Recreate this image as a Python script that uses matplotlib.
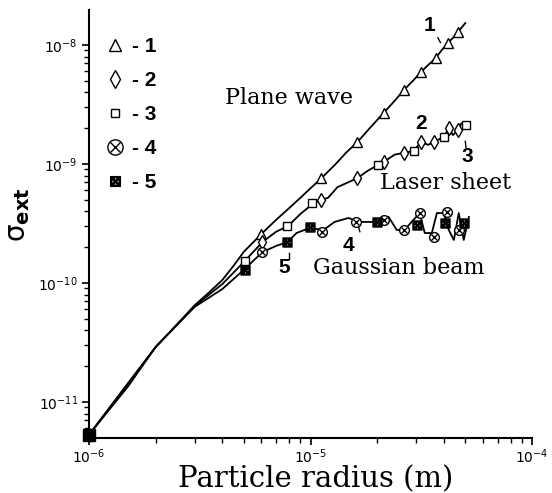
import numpy as np
import matplotlib
matplotlib.use("Agg")
import matplotlib.pyplot as plt
from matplotlib.lines import Line2D
from matplotlib.ticker import NullFormatter

plt.rcParams['mathtext.fontset'] = 'dejavusans'

# radii in micrometres, cross sections in m^2
plane_r = [1, 1.5, 2, 2.5, 3, 3.5, 4, 4.5, 5, 6, 7, 8, 9, 10, 11.2, 13, 14.5,
           16.3, 18.5, 21.4, 24, 26.4, 29, 31.5, 34, 36.8, 39, 41.7, 44, 46.2, 50]
plane_s = [5.3e-12, 1.35e-11, 2.9e-11, 4.5e-11, 6.5e-11, 8.4e-11, 1.06e-10,
           1.4e-10, 1.83e-10, 2.58e-10, 3.4e-10, 4.25e-10, 5.2e-10, 6.25e-10,
           7.6e-10, 1.0e-9, 1.25e-9, 1.53e-9, 2.0e-9, 2.69e-9, 3.4e-9, 4.19e-9,
           5.0e-9, 5.93e-9, 6.8e-9, 7.78e-9, 9.0e-9, 1.04e-8, 1.15e-8, 1.28e-8,
           1.53e-8]

laser_r = [1, 2, 3, 4, 5, 6.07, 7, 7.9, 9, 10.2, 11.1, 12, 13.25, 15.5, 16.3,
           18, 20.1, 21.4, 24, 26.4, 29.2, 31.5, 34, 36, 40, 42, 44, 46.2, 48,
           50.3]
laser_s = [5.3e-12, 2.9e-11, 6.4e-11, 9.8e-11, 1.5e-10, 2.21e-10, 2.7e-10,
           3.0e-10, 3.8e-10, 4.6e-10, 4.98e-10, 5.2e-10, 6.4e-10, 7.3e-10,
           7.63e-10, 8.7e-10, 9.8e-10, 1.04e-9, 1.2e-9, 1.24e-9, 1.29e-9,
           1.53e-9, 1.45e-9, 1.53e-9, 1.69e-9, 2.01e-9, 1.75e-9, 1.93e-9,
           2.2e-9, 2.13e-9]

gauss_r = [1, 2, 3, 4, 5, 6.07, 7, 7.87, 8.65, 9.89, 11.46, 12.84, 14.86,
           16.49, 19.89, 22.54, 24.5, 26.6, 28.6, 31.1, 32.8, 35.3, 37.2, 40,
           42.1, 44.4, 46.7, 49.2, 51.9]
gauss_s = [5.3e-12, 2.9e-11, 6.3e-11, 8.9e-11, 1.29e-10, 1.82e-10, 2.05e-10,
           2.21e-10, 2.63e-10, 2.9e-10, 2.79e-10, 3.26e-10, 3.52e-10, 3.26e-10,
           3.26e-10, 3.59e-10, 2.79e-10, 2.79e-10, 3.26e-10, 3.87e-10,
           2.63e-10, 2.63e-10, 3.87e-10, 3.87e-10, 2.79e-10, 2.3e-10, 3.87e-10,
           2.3e-10, 3.59e-10]

tri_r = [1, 6, 11.2, 16.3, 21.4, 26.4, 31.5, 36.8, 41.7, 46.2]
tri_s = [5.3e-12, 2.58e-10, 7.6e-10, 1.53e-9, 2.69e-9, 4.19e-9, 5.93e-9,
         7.78e-9, 1.04e-8, 1.28e-8]
dia_r = [1, 6.07, 11.1, 16.3, 21.4, 26.4, 31.5, 36, 42, 46.2]
dia_s = [5.3e-12, 2.21e-10, 4.98e-10, 7.63e-10, 1.04e-9, 1.24e-9, 1.53e-9,
         1.53e-9, 2.01e-9, 1.93e-9]
sq_r = [1, 5.08, 7.87, 10.2, 20.1, 29.2, 40, 50.3]
sq_s = [5.3e-12, 1.53e-10, 3.01e-10, 4.7e-10, 9.8e-10, 1.29e-9, 1.69e-9,
        2.13e-9]
otim_r = [1, 6.07, 11.3, 16.1, 21.4, 26.4, 31.1, 36, 41.2, 46.7]
otim_s = [5.3e-12, 1.82e-10, 2.68e-10, 3.26e-10, 3.4e-10, 2.79e-10, 3.87e-10,
          2.43e-10, 3.95e-10, 2.79e-10]
btim_r = [1, 5.08, 7.87, 9.9, 19.9, 30.2, 40.4, 49.2]
btim_s = [5.3e-12, 1.29e-10, 2.21e-10, 2.96e-10, 3.26e-10, 3.07e-10,
          3.19e-10, 3.19e-10]

um = 1e-6

fig = plt.figure(figsize=(5.52, 4.93), dpi=100)
ax = fig.add_axes([89 / 552, 55 / 493, 443 / 552, 428 / 493])

for r, s in [(plane_r, plane_s), (laser_r, laser_s), (gauss_r, gauss_s)]:
    ax.plot(np.array(r) * um, s, color='k', lw=1.3, clip_on=False)

mk = dict(ls='none', color='k', mfc='white', mew=1.0, clip_on=False)
ax.plot(np.array(tri_r) * um, tri_s, marker='^', ms=7, **mk)
ax.plot(np.array(dia_r) * um, dia_s, marker='d', ms=7, **mk)
ax.plot(np.array(sq_r) * um, sq_s, marker='s', ms=6, **mk)
ax.plot(np.array(otim_r) * um, otim_s, marker='o', ms=7, **mk)
ax.plot(np.array(otim_r) * um, otim_s, ls='none', color='k', marker='x',
        ms=4.5, mew=1.0, clip_on=False)
ax.plot(np.array(btim_r) * um, btim_s, ls='none', color='k',
        marker=r'$\boxtimes$', ms=6.5, clip_on=False)
# start point: all markers pile up
ax.plot([1 * um], [5.3e-12], marker='s', ms=9, color='k', clip_on=False)

ax.set_xscale('log')
ax.set_yscale('log')
ax.set_xlim(1e-6, 1e-4)
ax.set_ylim(4.98e-12, 1.97e-8)
ax.xaxis.set_minor_formatter(NullFormatter())
ax.yaxis.set_minor_formatter(NullFormatter())
ax.xaxis.label.set_visible(False)
ax.yaxis.label.set_visible(False)
ax.xaxis.get_offset_text().set_visible(False)
ax.yaxis.get_offset_text().set_visible(False)
ax.spines['top'].set_visible(False)
ax.spines['right'].set_visible(False)
ax.spines['left'].set_linewidth(1.5)
ax.spines['bottom'].set_linewidth(1.5)
ax.tick_params(which='major', direction='out', length=5, width=1.2,
               labelsize=10, colors='k')
ax.tick_params(which='minor', direction='out', length=3.5, width=1.0)
ax.tick_params(axis='x', which='major', pad=2)
ax.tick_params(axis='y', which='major', pad=3)

bold = dict(family='Liberation Sans', fontweight='bold', fontsize=15)
serif = dict(family='DejaVu Serif', fontsize=16)

ax.text(4.13 * um, 3.59e-9, 'Plane wave', ha='left', va='center', **serif)
ax.text(20.5 * um, 6.92e-10, 'Laser sheet', ha='left', va='center', **serif)
ax.text(10.3 * um, 1.34e-10, 'Gaussian beam', ha='left', va='center', **serif)

ax.text(34.5 * um, 1.47e-8, '1', ha='center', va='center', **bold)
ax.text(31.5 * um, 2.21e-9, '2', ha='center', va='center', **bold)
ax.text(50.8 * um, 1.15e-9, '3', ha='center', va='center', **bold)
ax.text(14.9 * um, 2.08e-10, '4', ha='center', va='center', **bold)
ax.text(7.63 * um, 1.34e-10, '5', ha='center', va='center', **bold)

leaders = [((37.6, 1.15e-8), (38.6, 1.05e-8)),
           ((50.0, 1.55e-9), (50.3, 1.38e-9)),
           ((16.5, 2.95e-10), (16.7, 2.7e-10)),
           ((8.0, 1.78e-10), (8.0, 1.6e-10))]
for (x0, y0), (x1, y1) in leaders:
    ax.plot([x0 * um, x1 * um], [y0, y1], color='k', lw=1.0)

handles = [
    Line2D([], [], marker='^', ms=9, **mk),
    Line2D([], [], marker='d', ms=9, **mk),
    Line2D([], [], marker='s', ms=6, **mk),
    (Line2D([], [], marker='o', ms=11, **mk),
     Line2D([], [], ls='none', color='k', marker='x', ms=7, mew=1.0)),
    Line2D([], [], ls='none', color='k', marker=r'$\boxtimes$', ms=7),
]
labels = ['- 1', '- 2', '- 3', '- 4', '- 5']
ax.legend(handles, labels, loc='upper left',
          bbox_to_anchor=(105 / 552, 1 - 37 / 493),
          bbox_transform=fig.transFigure, frameon=False, borderpad=0,
          borderaxespad=0, handlelength=1.0, handletextpad=0.3,
          labelspacing=0.72,
          prop=dict(family='Liberation Sans', weight='bold', size=15))

fig.text(316 / 552, 1 - 487 / 493, 'Particle radius (m)', ha='center',
         va='baseline', family='DejaVu Serif', fontsize=21)
fig.text(18 / 552, 1 - 215 / 493, r'σ$_{\mathbf{ext}}$', rotation=90,
         ha='center', va='center', fontsize=20)

fig.savefig('out.png', dpi=100)
